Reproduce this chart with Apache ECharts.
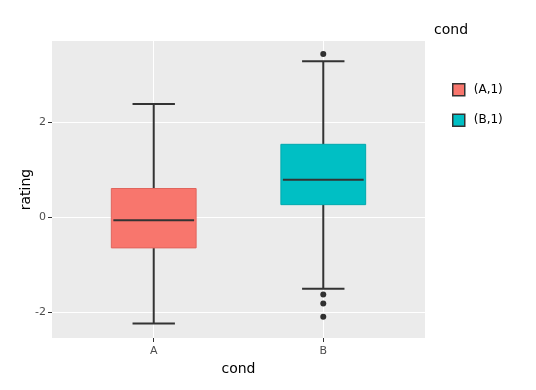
<!DOCTYPE html>
<html><head><meta charset="utf-8">
<script src="https://cdn.jsdelivr.net/npm/echarts@6/dist/echarts.min.js"></script>
<style>html,body{margin:0;padding:0;background:#fff}#c{width:536px;height:390px}</style>
</head><body><div id="c"></div>
<script>
var categories = ['A', 'B'];
var seriesNames = ['(A,1)', '(B,1)'];
// [min, Q1, median, Q3, max]
var boxA = [-2.24, -0.65, -0.07, 0.60, 2.38];
var boxB = [-1.51, 0.26, 0.785, 1.53, 3.28];
var outliersB = [3.43, -1.63, -1.82, -2.10];
var yTicks = [-2, 0, 2];
var colors = ['#F8766D', '#00BFC4'];
var borders = ['#E0655D', '#00A9AE'];

var chart = echarts.init(document.getElementById('c'), null, {renderer: 'canvas'});

function makeRender(idx) {
  return function (params, api) {
    var x = api.value(0);
    var mn = api.value(1), q1 = api.value(2), md = api.value(3), q3 = api.value(4), mx = api.value(5);
    var half = 0.25, cap = 0.125;
    var pMin = api.coord([x, mn]), pQ1 = api.coord([x, q1]), pMd = api.coord([x, md]),
        pQ3 = api.coord([x, q3]), pMx = api.coord([x, mx]);
    var left = api.coord([x - half, 0])[0], right = api.coord([x + half, 0])[0];
    var cl = api.coord([x - cap, 0])[0], cr = api.coord([x + cap, 0])[0];
    var dark = '#333333';
    var lw = 2;
    return {
      type: 'group',
      children: [
        {type: 'line', shape: {x1: pMin[0], y1: pMin[1], x2: pQ1[0], y2: pQ1[1]}, style: {stroke: dark, lineWidth: lw}},
        {type: 'line', shape: {x1: pQ3[0], y1: pQ3[1], x2: pMx[0], y2: pMx[1]}, style: {stroke: dark, lineWidth: lw}},
        {type: 'line', shape: {x1: cl, y1: pMin[1], x2: cr, y2: pMin[1]}, style: {stroke: dark, lineWidth: lw}},
        {type: 'line', shape: {x1: cl, y1: pMx[1], x2: cr, y2: pMx[1]}, style: {stroke: dark, lineWidth: lw}},
        {type: 'rect', shape: {x: left, y: pQ3[1], width: right - left, height: pQ1[1] - pQ3[1]},
          style: {fill: colors[idx], stroke: borders[idx], lineWidth: 1}},
        {type: 'line', shape: {x1: left + 2, y1: pMd[1], x2: right - 2, y2: pMd[1]}, style: {stroke: dark, lineWidth: lw}}
      ]
    };
  };
}

var option = {
  animation: false,
  backgroundColor: '#ffffff',
  grid: {left: 52, right: 111, top: 41, bottom: 52, show: true, backgroundColor: '#EBEBEB', borderWidth: 0},
  xAxis: {
    type: 'value', min: -0.6, max: 1.6,
    name: 'cond', nameLocation: 'middle', nameGap: 23,
    nameTextStyle: {fontFamily: 'DejaVu Sans', fontSize: 14, color: '#000'},
    axisLine: {show: false, onZero: false},
    axisTick: {show: true, customValues: [0, 1], length: 4, lineStyle: {color: '#333', width: 1}},
    axisLabel: {customValues: [0, 1], formatter: function (v) { return categories[Math.round(v)]; },
      fontFamily: 'DejaVu Sans', fontSize: 11, color: '#4D4D4D', margin: 8},
    splitLine: {show: true, lineStyle: {color: '#ffffff', width: 1}}
  },
  yAxis: {
    type: 'value', min: -2.547, max: 3.705,
    name: 'rating', nameLocation: 'middle', nameGap: 19, nameRotate: 90, nameMoveOverlap: false,
    nameTextStyle: {fontFamily: 'DejaVu Sans', fontSize: 14, color: '#000'},
    axisLine: {show: false, onZero: false},
    axisTick: {show: true, customValues: yTicks, length: 4, lineStyle: {color: '#333', width: 1}},
    axisLabel: {customValues: yTicks, fontFamily: 'DejaVu Sans', fontSize: 11, color: '#4D4D4D', margin: 6},
    splitLine: {show: true, lineStyle: {color: '#ffffff', width: 1}}
  },
  legend: {
    orient: 'vertical', left: 447, top: 78, itemWidth: 12, itemHeight: 12, itemGap: 17,
    icon: 'rect',
    textStyle: {fontFamily: 'DejaVu Sans', fontSize: 12, color: '#000', padding: [0, 0, 0, 4]},
    data: [
      {name: seriesNames[0], itemStyle: {color: colors[0], borderColor: '#333', borderWidth: 1.5}},
      {name: seriesNames[1], itemStyle: {color: colors[1], borderColor: '#333', borderWidth: 1.5}}
    ]
  },
  graphic: [{type: 'text', left: 434, top: 23, style: {text: 'cond', font: '14px "DejaVu Sans"', fill: '#000'}}],
  series: [
    {name: seriesNames[0], type: 'custom', itemStyle: {color: colors[0]}, renderItem: makeRender(0),
      encode: {x: 0, y: [1, 2, 3, 4, 5]}, data: [[0].concat(boxA)]},
    {name: seriesNames[1], type: 'custom', itemStyle: {color: colors[1]}, renderItem: makeRender(1),
      encode: {x: 0, y: [1, 2, 3, 4, 5]}, data: [[1].concat(boxB)]},
    {name: 'outliers', type: 'scatter', symbol: 'circle', symbolSize: 6, itemStyle: {color: '#000'}, z: 5,
      data: outliersB.map(function (v) { return [1, v]; })}
  ]
};
chart.setOption(option);
</script></body></html>
